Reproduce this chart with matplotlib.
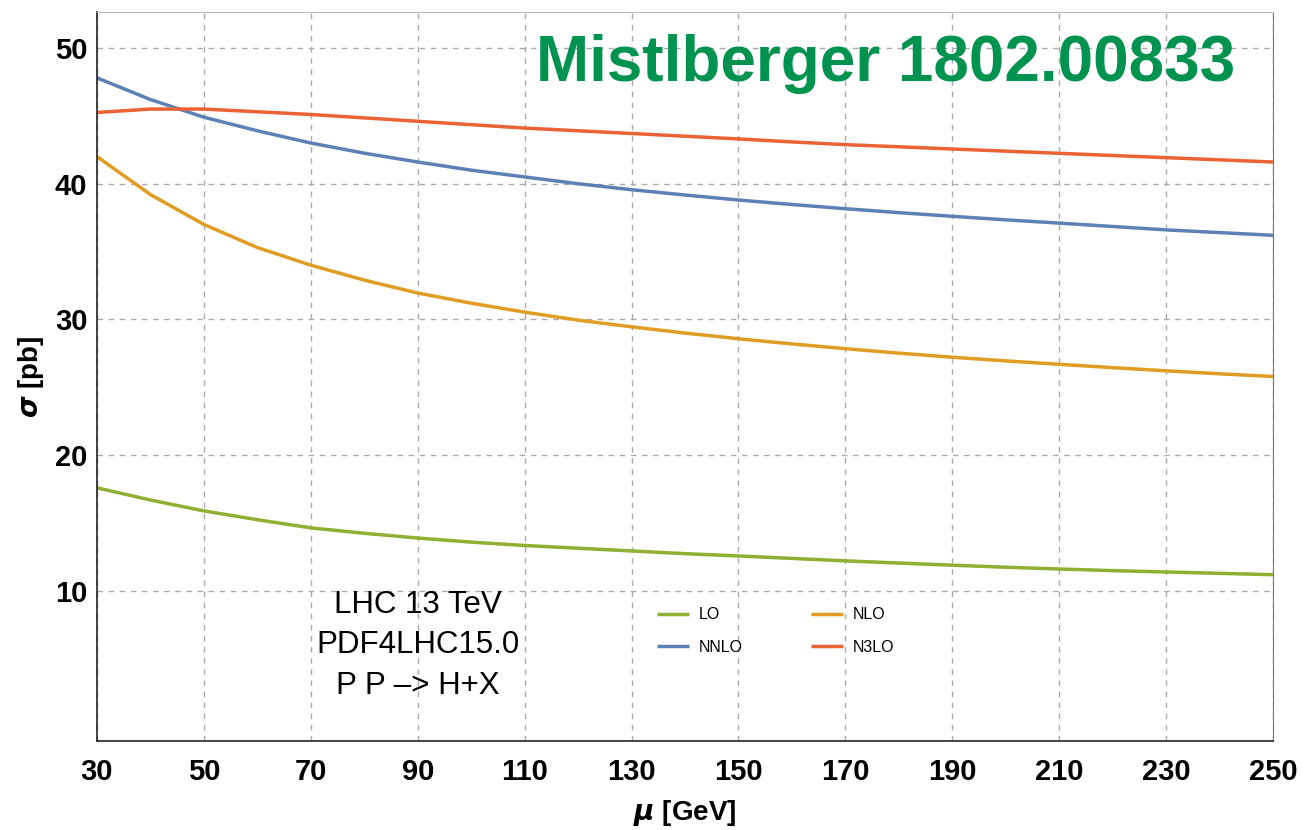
import matplotlib
matplotlib.use("Agg")
import matplotlib.pyplot as plt

mu = [30, 40, 50, 60, 70, 80, 90, 100, 110, 120, 130, 140, 150, 160, 170, 180, 190, 200, 210, 220, 230, 240, 250]
lo = [17.6, 16.7, 15.9, 15.25, 14.65, 14.25, 13.9, 13.6, 13.35, 13.15, 12.95, 12.75, 12.58, 12.4, 12.22, 12.06, 11.9, 11.75, 11.62, 11.5, 11.4, 11.3, 11.2]
nlo = [42.0, 39.2, 37.0, 35.3, 34.0, 32.9, 31.95, 31.2, 30.54, 29.95, 29.46, 29.0, 28.58, 28.2, 27.85, 27.52, 27.22, 26.95, 26.7, 26.45, 26.22, 26.0, 25.8]
nnlo = [47.8, 46.2, 44.9, 43.9, 43.0, 42.25, 41.6, 41.0, 40.5, 40.0, 39.56, 39.17, 38.8, 38.47, 38.16, 37.87, 37.6, 37.34, 37.1, 36.85, 36.6, 36.4, 36.2]
n3lo = [45.25, 45.5, 45.5, 45.3, 45.1, 44.85, 44.6, 44.35, 44.1, 43.9, 43.7, 43.5, 43.3, 43.08, 42.88, 42.72, 42.56, 42.4, 42.24, 42.08, 41.92, 41.76, 41.6]

series = [("LO", lo, "#8FB032"), ("NNLO", nnlo, "#5E81B5"), ("NLO", nlo, "#E19C24"), ("N3LO", n3lo, "#EB6235")]
xticks = [30, 50, 70, 90, 110, 130, 150, 170, 190, 210, 230, 250]
yticks = [10, 20, 30, 40, 50]

plt.rcParams['font.family'] = ['Liberation Sans', 'DejaVu Sans']

fig = plt.figure(figsize=(13.04, 8.3), dpi=100)
ax = fig.add_axes([97/1304, 89/830, (1273-97)/1304, (741-12)/830])

for name, vals, col in series:
    ax.plot(mu, vals, color=col, lw=2.5, label=name, solid_capstyle='butt')

ax.set_xlim(30, 250)
ax.set_ylim(-1.05, 52.65)
ax.set_xticks(xticks)
ax.set_yticks(yticks)
ax.tick_params(length=0, labelsize=21)
ax.tick_params(axis='x', pad=12)
ax.tick_params(axis='y', pad=7)
for t in ax.get_xticklabels() + ax.get_yticklabels():
    t.set_fontweight('bold')
ax.grid(True, color='#aaaaaa', lw=1.0, linestyle=(0, (4, 4)))
ax.set_axisbelow(True)
for s in ['left', 'bottom']:
    ax.spines[s].set_color('#222222')
    ax.spines[s].set_linewidth(1.2)
ax.spines['top'].set_color('#bbbbbb')
ax.spines['right'].set_color('#777777')

ax.set_xlabel(r"$\boldsymbol{\mu}$ [GeV]", fontsize=20, fontweight='bold', labelpad=9)
ax.set_ylabel(r"$\boldsymbol{\sigma}$ [pb]", fontsize=20, fontweight='bold', labelpad=6)

ax.text(0.968, 47.6, "Mistlberger 1802.00833", transform=ax.get_yaxis_transform(), ha='right', va='baseline',
        fontsize=46, fontweight='bold', color='#00924F')

ax.text(90, 6.0, "LHC 13 TeV\nPDF4LHC15.0\nP P \u2013> H+X", ha='center', va='center',
        fontsize=22.5, linespacing=1.45)

handles, labels = ax.get_legend_handles_labels()
leg = ax.legend(handles, labels, ncol=2, frameon=False, fontsize=11.5,
                loc='center left', bbox_to_anchor=(0.464, 0.151),
                handlelength=2.0, columnspacing=4.3, labelspacing=1.1, handletextpad=0.6)

fig.savefig("out.png", dpi=100)
